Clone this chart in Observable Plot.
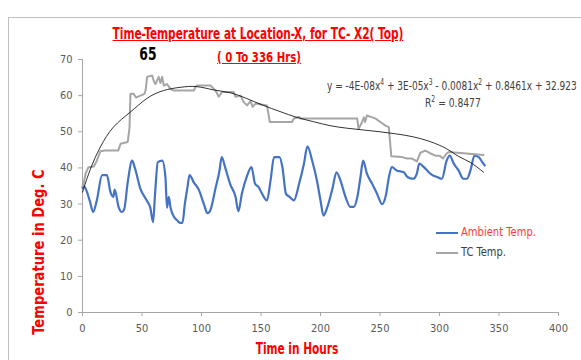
<!DOCTYPE html>
<html>
<head>
<meta charset="utf-8">
<script src="https://cdn.jsdelivr.net/npm/d3@7"></script>
<script src="https://cdn.jsdelivr.net/npm/@observablehq/plot@0.6"></script>
<style>
  html, body { margin: 0; padding: 0; background: #fff; }
  #wrap { position: relative; width: 581px; height: 360px; overflow: hidden;
          font-family: "Liberation Sans Narrow", "DejaVu Sans Condensed", "Roboto", sans-serif; }
  #border { position: absolute; left: 8px; top: 17px; width: 600px; height: 400px;
            border: 1px solid #bfbfbf; box-sizing: border-box; }
  #chart { position: absolute; left: 0; top: 0; }
  .abs { position: absolute; white-space: nowrap; line-height: 1.15; }
  #title { left: 258px; top: 26px; color: #ff0000; font-size: 15px;
           font-weight: bold; text-decoration: underline; }
  #subtitle { left: 259px; top: 49px; color: #ff0000; font-size: 14px;
              font-weight: bold; text-decoration: underline; }
  #peak { left: 148px; top: 45px; color: #000; font-size: 17px; font-weight: bold; }
  #eq { left: 327px; top: 78px; color: #404040; font-size: 12px; }
  #r2 { left: 425px; top: 95px; color: #404040; font-size: 12px; }
  #xlab { left: 297px; top: 341px; color: #ff0000; font-size: 15px; font-weight: bold; }
  #ylab { left: 40px; top: 252px; color: #ff0000; font-size: 15px; font-weight: bold; }
  .leg { position: absolute; font-size: 12px; white-space: nowrap; transform-origin: 0 50%; }
  .sw { position: absolute; width: 22px; height: 2px; }
  sup { font-size: 8px; }
</style>
</head>
<body>
<div id="wrap">
  <div id="border"></div>
  <div id="chart"></div>
  <div class="abs" id="title">Time-Temperature at Location-X, for TC- X2( Top)</div>
  <div class="abs" id="subtitle">( 0 To 336 Hrs)</div>
  <div class="abs" id="peak">65</div>
  <div class="abs" id="eq">y = -4E-08x<sup>4</sup> + 3E-05x<sup>3</sup> - 0.0081x<sup>2</sup> + 0.8461x + 32.923</div>
  <div class="abs" id="r2">R<sup>2</sup> = 0.8477</div>
  <div class="abs" id="xlab">Time in Hours</div>
  <div class="abs" id="ylab">Temperature in Deg. C</div>
  <div class="sw" style="left:436px; top:232px; background:#4472C4;"></div>
  <div class="leg" id="leg1" style="left:461px; top:225px; color:#ff3b3b;">Ambient Temp.</div>
  <div class="sw" style="left:436px; top:252px; background:#A5A5A5;"></div>
  <div class="leg" id="leg2" style="left:461px; top:245px; color:#404040;">TC Temp.</div>
</div>
<script>
// Time (hours)
const ambientT = [0,1,3,6,9,12,16.5,20.5,23.5,26,27,30.5,33,35,38,41.7,44,48.7,54,57,59.3,61,63.3,67,69.7,71,72.5,74,77,79.5,82,84,86,88,90,93.5,97.7,102,105,107,112,115,117,120,124,128.6,131,134,138,142,145,148,151,155,158,161,165.5,168,171,174,177.6,182,186,189,193,197,200,202.5,205.6,210,213.4,216.8,221,225,228,231,233.6,235.8,239,243.4,247.6,251.8,255,257.5,260,264,270,273,278,281,283,286,291,294,298,302,306,308.6,312,316,320,323,326,329.4,333,336,338];
const ambientV = [34.5,35,34,31,27.8,31,38,38,33.3,32,34,29,27.8,28.5,36,42,40,34.2,31,29,25,33,41.6,42,37.4,29,32,29,26.4,25.5,24.8,24.8,30,34.2,38,36,34,30,27.5,28,34.7,39,43,40,35.6,32,28,33,37.5,40.2,35.6,34.7,32.8,31,36.5,43,43,40.2,32.8,32,31,35.6,41,46,42,36.5,31,26.8,29,34.2,38.8,36.5,32,29.2,29.2,32,37.5,42,38.4,35.6,32.8,30,32.5,37.5,40.2,39.3,38.8,37.5,37,38.5,41.2,40.5,38.8,38,37.5,37,42,43.4,41.2,39.3,37,37,39.3,43.4,43,41.6,40.7];

const tcT = [0,1,2.5,5,9.5,12,15,19,30,32,38,39.5,40.3,43,45,48.7,52,53,54.3,58.5,60,61.3,64,65.5,67,68.3,71,74,76.7,93.5,95,96.3,107.6,111.8,114.5,117.3,127,128.6,132.8,135.5,138.3,141.2,143,145.4,155,157.4,176,177.6,182,183,230.8,232,235,236.4,237.5,239,243.4,246,250.4,254.6,257.4,259.5,268.6,272.8,277,281,284,288,292.4,296.6,300,303,306,307.8,337];
const tcV = [35,35.6,38.4,40.2,40.4,42,44.6,44.8,44.8,46.7,47.2,51,60.5,60.5,59.5,60,60.5,61.4,65.2,65.6,64,63.2,65.2,63.5,65.2,62.8,63.2,61.9,61.4,61.4,62.4,62.8,62.8,61.4,59.7,61,61,59.7,60,58.2,57.3,58.5,56.9,57.8,57.3,52.7,52.7,53.7,54.1,53.7,53.7,50.8,52.7,54,52.7,54.5,54,53.7,52.7,51.7,51.3,43.2,43,42.6,42.6,41.8,44.2,44.8,44,43.4,43.4,42.6,44,44.4,43.6];

// Polynomial trendline
const trendT = [0,7,15,26,40,54,68,82,96,110,124,138,152,166,180,194,208,222,236,250,264,278,292,306,316,326,337];
const trendV = [33.3,40,45.8,51.3,55.4,59.2,61.4,62.3,62.5,61.6,60.8,59.2,57.3,55.6,54,52.8,51.7,51,50.5,50,49.4,48.6,47.3,45.3,43.2,41.5,38.8];

const xTicks = [0,50,100,150,200,250,300,350,400];
const yTicks = [0,10,20,30,40,50,60,70];

const ambient = ambientT.map((t,i) => ({t, v: ambientV[i]}));
const tc = tcT.map((t,i) => ({t, v: tcV[i]}));
const trend = trendT.map((t,i) => ({t, v: trendV[i]}));

const chart = Plot.plot({
  width: 581,
  height: 360,
  marginLeft: 82,
  marginRight: 23,
  marginTop: 59,
  marginBottom: 48,
  style: {fontFamily: '"Liberation Sans Narrow", "DejaVu Sans Condensed", sans-serif', fontSize: "11px", color: "#595959", background: "transparent"},
  x: {domain: [0, 400]},
  y: {domain: [0, 70]},
  marks: [
    Plot.axisX({ticks: xTicks, tickSize: 4, tickPadding: 8, stroke: "#a6a6a6", fill: "#595959", label: null, fontSize: 11}),
    Plot.axisY({ticks: yTicks, tickSize: 4, tickPadding: 6, stroke: "#a6a6a6", fill: "#595959", label: null, fontSize: 11}),
    Plot.ruleY([0], {stroke: "#a6a6a6"}),
    Plot.ruleX([0], {stroke: "#a6a6a6"}),
    Plot.line(ambient, {x: "t", y: "v", stroke: "#4472C4", strokeWidth: 2.2, curve: "monotone-x"}),
    Plot.line(tc, {x: "t", y: "v", stroke: "#A5A5A5", strokeWidth: 2}),
    Plot.line(trend, {x: "t", y: "v", stroke: "#000", strokeWidth: 0.8, curve: "natural"})
  ]
});
document.getElementById("chart").appendChild(chart);

// fit HTML texts to the widths they have in the reference
function fit(id, w, tpl) {
  const el = document.getElementById(id);
  const k = Math.min(1, w / el.offsetWidth);
  el.style.transform = tpl.replace("K", k.toFixed(3));
}
fit("title", 291, "translateX(-50%) scaleX(K)");
fit("subtitle", 84, "translateX(-50%) scaleX(K)");
fit("peak", 17, "translateX(-50%) scaleX(K)");
document.getElementById("eq").style.transformOrigin = "0 50%";
document.getElementById("r2").style.transformOrigin = "0 50%";
fit("eq", 250, "scaleX(K)");
fit("r2", 56, "scaleX(K)");
fit("xlab", 83, "translateX(-50%) scaleX(K)");
fit("ylab", 165, "translate(-50%, -50%) rotate(-90deg) scaleX(K)");
fit("leg1", 75, "scaleX(K)");
fit("leg2", 45, "scaleX(K)");
</script>
</body>
</html>
